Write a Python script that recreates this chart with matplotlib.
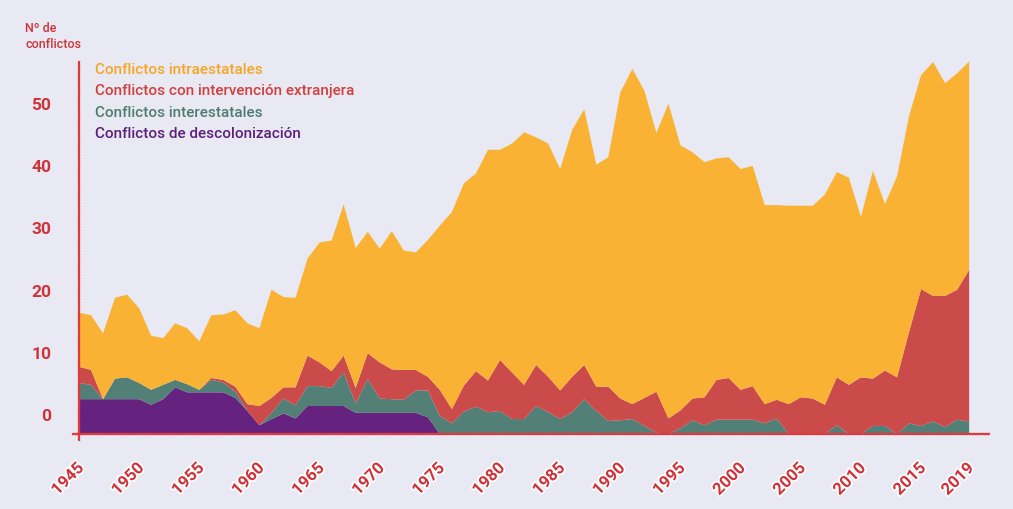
import matplotlib.pyplot as plt
import matplotlib.patheffects as pe
from matplotlib.transforms import ScaledTranslation

# years 1945-2019
years = list(range(1945, 2020))

# number of conflicts per type
descolonizacion = [5.6, 5.6, 5.6, 5.6, 5.6, 5.6, 4.7, 5.6, 7.5, 6.7,
                   6.7, 6.7, 6.7, 5.8, 3.7, 1.4, 2.4, 3.3, 2.5, 4.5,
                   4.5, 4.5, 4.5, 3.4, 3.4, 3.4, 3.4, 3.4, 3.4, 2.7,
                   0, 0, 0, 0, 0, 0, 0, 0, 0, 0,
                   0, 0, 0, 0, 0, 0, 0, 0, 0, 0,
                   0, 0, 0, 0, 0, 0, 0, 0, 0, 0,
                   0, 0, 0, 0, 0, 0, 0, 0, 0, 0,
                   0, 0, 0, 0, 0]
interestatales = [2.6, 2.3, 0, 3.3, 3.5, 2.6, 2.4, 2.3, 1.2, 1.3,
                  0.4, 2.0, 1.6, 1.0, 0, 0, 1.0, 2.4, 2.1, 3.2,
                  3.2, 2.9, 5.4, 1.5, 5.4, 2.3, 2.2, 2.1, 3.6, 4.3,
                  2.9, 1.7, 3.6, 4.4, 3.5, 3.7, 2.4, 2.4, 4.5, 3.5,
                  2.4, 3.5, 5.6, 3.7, 2.1, 2.2, 2.4, 1.3, 0.2, 0,
                  0.9, 2.2, 1.4, 2.3, 2.3, 2.3, 2.3, 1.7, 2.5, 0,
                  0, 0, 0, 1.4, 0, 0, 1.3, 1.3, 0, 1.7,
                  1.3, 2.0, 1.1, 2.3, 2.0]
intervencion = [2.6, 2.4, 0, 0, 0, 0, 0, 0, 0, 0,
                0, 0.3, 0.4, 0.8, 1.1, 3.1, 2.4, 1.8, 2.9, 4.9,
                3.8, 2.7, 2.7, 2.5, 4.2, 5.8, 4.8, 4.8, 3.3, 2.2,
                4.2, 2.3, 4.2, 5.7, 5.1, 8.2, 7.5, 5.5, 6.6, 5.7,
                4.6, 5.7, 5.5, 3.9, 5.5, 3.5, 2.4, 4.5, 6.6, 2.5,
                2.9, 3.5, 4.5, 6.4, 6.7, 4.8, 5.4, 3.1, 3.0, 4.8,
                5.9, 5.7, 4.7, 7.7, 7.9, 9.1, 7.6, 8.9, 9.1, 14.7,
                22.0, 20.2, 21.1, 20.9, 24.4]
intraestatales = [8.7, 8.8, 10.6, 13.0, 13.3, 12.0, 8.7, 7.5, 9.1, 9.0,
                  7.8, 10.1, 10.5, 12.3, 13.0, 12.5, 17.4, 14.5, 14.4, 15.6,
                  19.3, 21.0, 24.3, 22.5, 19.5, 18.3, 22.2, 19.2, 18.9, 22.0,
                  26.4, 31.7, 32.5, 31.8, 37.1, 33.8, 36.8, 40.6, 36.6, 37.5,
                  35.6, 39.7, 41.1, 35.7, 36.9, 49.2, 53.9, 49.4, 41.6, 50.6,
                  42.6, 39.6, 37.8, 35.6, 35.5, 35.5, 35.4, 32.0, 31.3, 31.9,
                  30.8, 31.0, 33.8, 33.0, 33.3, 25.8, 33.4, 26.8, 32.3, 34.7,
                  34.4, 37.6, 34.2, 34.8, 33.5]

labels = ["Conflictos intraestatales",
          "Conflictos con intervención extranjera",
          "Conflictos interestatales",
          "Conflictos de descolonización"]
fill_colors = ["#F9B233", "#CB4B4B", "#538076", "#65237F"]
text_colors = ["#F6A623", "#D13F3F", "#4E7C71", "#5D1F7B"]
xticks = [1945, 1950, 1955, 1960, 1965, 1970, 1975, 1980, 1985,
          1990, 1995, 2000, 2005, 2010, 2015, 2019]

bg = "#E8E9F2"
axis_red = "#DD3A3F"
label_red = "#CF3238"

fig = plt.figure(figsize=(10.13, 5.09), dpi=100, facecolor=bg)
ax = fig.add_axes([79 / 1013, 75 / 509, 911 / 1013, 373.2 / 509])
ax.set_facecolor(bg)

# stacked areas, bottom layer first
ax.stackplot(years, descolonizacion, interestatales, intervencion, intraestatales,
             colors=fill_colors[::-1], linewidth=0)

ax.set_xlim(1945, 2020.73)
ax.set_ylim(0, 60)

for s in ax.spines.values():
    s.set_visible(False)

# axis lines, slightly rough like a marker stroke
left = ax.plot([0, 0], [-0.02, 1], transform=ax.transAxes, color=axis_red,
               lw=1.6, clip_on=False, solid_capstyle='butt')[0]
bottom = ax.plot([-0.008, 1], [0, 0], transform=ax.transAxes, color=axis_red,
                 lw=1.6, clip_on=False, solid_capstyle='butt')[0]
for ln in (left, bottom):
    ln.set_sketch_params(0.25, 3, 1)

# y ticks: labels sit a bit above the grid values, as in the original
ax.set_yticks(range(0, 60, 10))
ax.tick_params(axis='y', length=0, pad=20, labelsize=12.5, labelcolor=label_red)
for t in ax.get_yticklabels():
    t.set_fontfamily('Roboto')
    t.set_fontweight('bold')
    t.set_transform(t.get_transform() + ScaledTranslation(0, 19 / 100, fig.dpi_scale_trans))

# x ticks
ax.set_xticks(xticks)
ax.set_xticklabels([str(y) for y in xticks])
ax.tick_params(axis='x', length=0, pad=19, labelsize=12, labelcolor=label_red)
for t in ax.get_xticklabels():
    t.set_rotation(45)
    t.set_rotation_mode('anchor')
    t.set_ha('right')
    t.set_va('top')
    t.set_fontfamily('Roboto')
    t.set_fontweight('bold')
    t.set_path_effects([pe.withStroke(linewidth=2.5, foreground='white')])
    t.set_transform(t.get_transform() + ScaledTranslation(-3 / 100, 0, fig.dpi_scale_trans))

# axis title
fig.text(25 / 1013, 1 - 22 / 509, "Nº de\nconflictos", color=label_red,
         fontsize=9, fontfamily='Roboto', fontweight='medium',
         ha='left', va='top', linespacing=1.3)

# legend as coloured text lines
for i, (lab, col) in enumerate(zip(labels, text_colors)):
    fig.text(95 / 1013, 1 - (70 + i * 21.5) / 509, lab, color=col,
             fontsize=11, fontfamily='Roboto', fontweight='medium',
             ha='left', va='center')

fig.savefig("out.png", dpi=100, facecolor=bg)
